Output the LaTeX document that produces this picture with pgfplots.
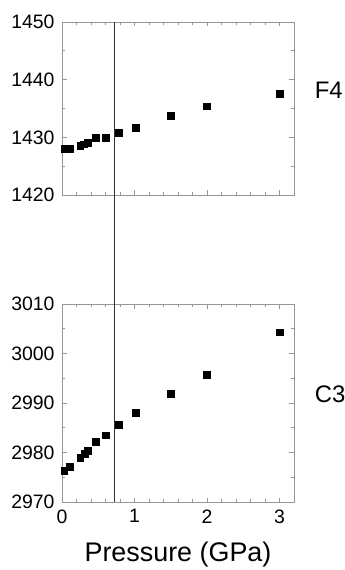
\documentclass[border=0pt]{standalone}
\usepackage{pgfplots}
\pgfplotsset{compat=1.18}
\usepackage{fontspec}
\setmainfont{Liberation Sans}
\definecolor{axgray}{RGB}{150,150,150}
\definecolor{vline}{RGB}{50,50,50}
\pgfplotsset{
  myax/.style={
    scale only axis, width=232bp,
    xmin=0, xmax=3.2,
    xtick={0,1,2,3}, minor x tick num=4,
    minor y tick num=1,
    axis line style={axgray, line width=0.8bp},
    every tick/.style={axgray, line width=0.8bp},
    major tick length=4.5bp, minor tick length=3bp,
    tick align=inside,
    /pgf/number format/assume math mode=true,
    /pgf/number format/1000 sep={},
    tick label style={font=\fontsize{19.5}{20}\selectfont, black},
    yticklabel style={xshift=-4bp},
    xticklabel style={yshift=-4bp},
    clip=false,
  },
  dat/.style={only marks, mark=square*, mark size=3.4bp, black},
}
\begin{document}
\begin{tikzpicture}
\useasboundingbox (0,0) rectangle (345bp,570bp);
\begin{axis}[myax, at={(62bp,375bp)}, anchor=south west, height=173bp,
  ymin=1420, ymax=1450, ytick={1420,1430,1440,1450}, xticklabels={}]
\addplot[dat] coordinates {
(0.03,1428.0) (0.11,1428.0) (0.25,1428.6) (0.30,1428.8) (0.35,1429.0)
(0.47,1429.9) (0.60,1429.9) (0.78,1430.8) (1.02,1431.7) (1.50,1433.7)
(2.00,1435.4) (3.00,1437.6)};
\coordinate (vtop) at (axis cs:0.725,1450);
\node[anchor=west, inner sep=0pt, font=\fontsize{24}{24}\selectfont] at (axis cs:3.485,1438.2) {F4};
\end{axis}
\begin{axis}[myax, at={(62bp,68bp)}, anchor=south west, height=198bp,
  ymin=2970, ymax=3010, ytick={2970,2980,2990,3000,3010},
  xlabel={Pressure (GPa)},
  xlabel style={font=\fontsize{27}{27}\selectfont, yshift=-12bp}]
\addplot[dat] coordinates {
(0.03,2976.4) (0.11,2977.1) (0.25,2978.9) (0.31,2979.7) (0.35,2980.4)
(0.47,2982.2) (0.60,2983.5) (0.78,2985.6) (1.02,2988.1) (1.50,2991.8)
(2.00,2995.7) (3.00,3004.3)};
\coordinate (vbot) at (axis cs:0.725,2970);
\node[anchor=west, inner sep=0pt, font=\fontsize{24}{24}\selectfont] at (axis cs:3.485,2991.8) {C3};
\end{axis}
\draw[vline, line width=1.3bp] (vtop) -- (vbot);
\end{tikzpicture}
\end{document}
